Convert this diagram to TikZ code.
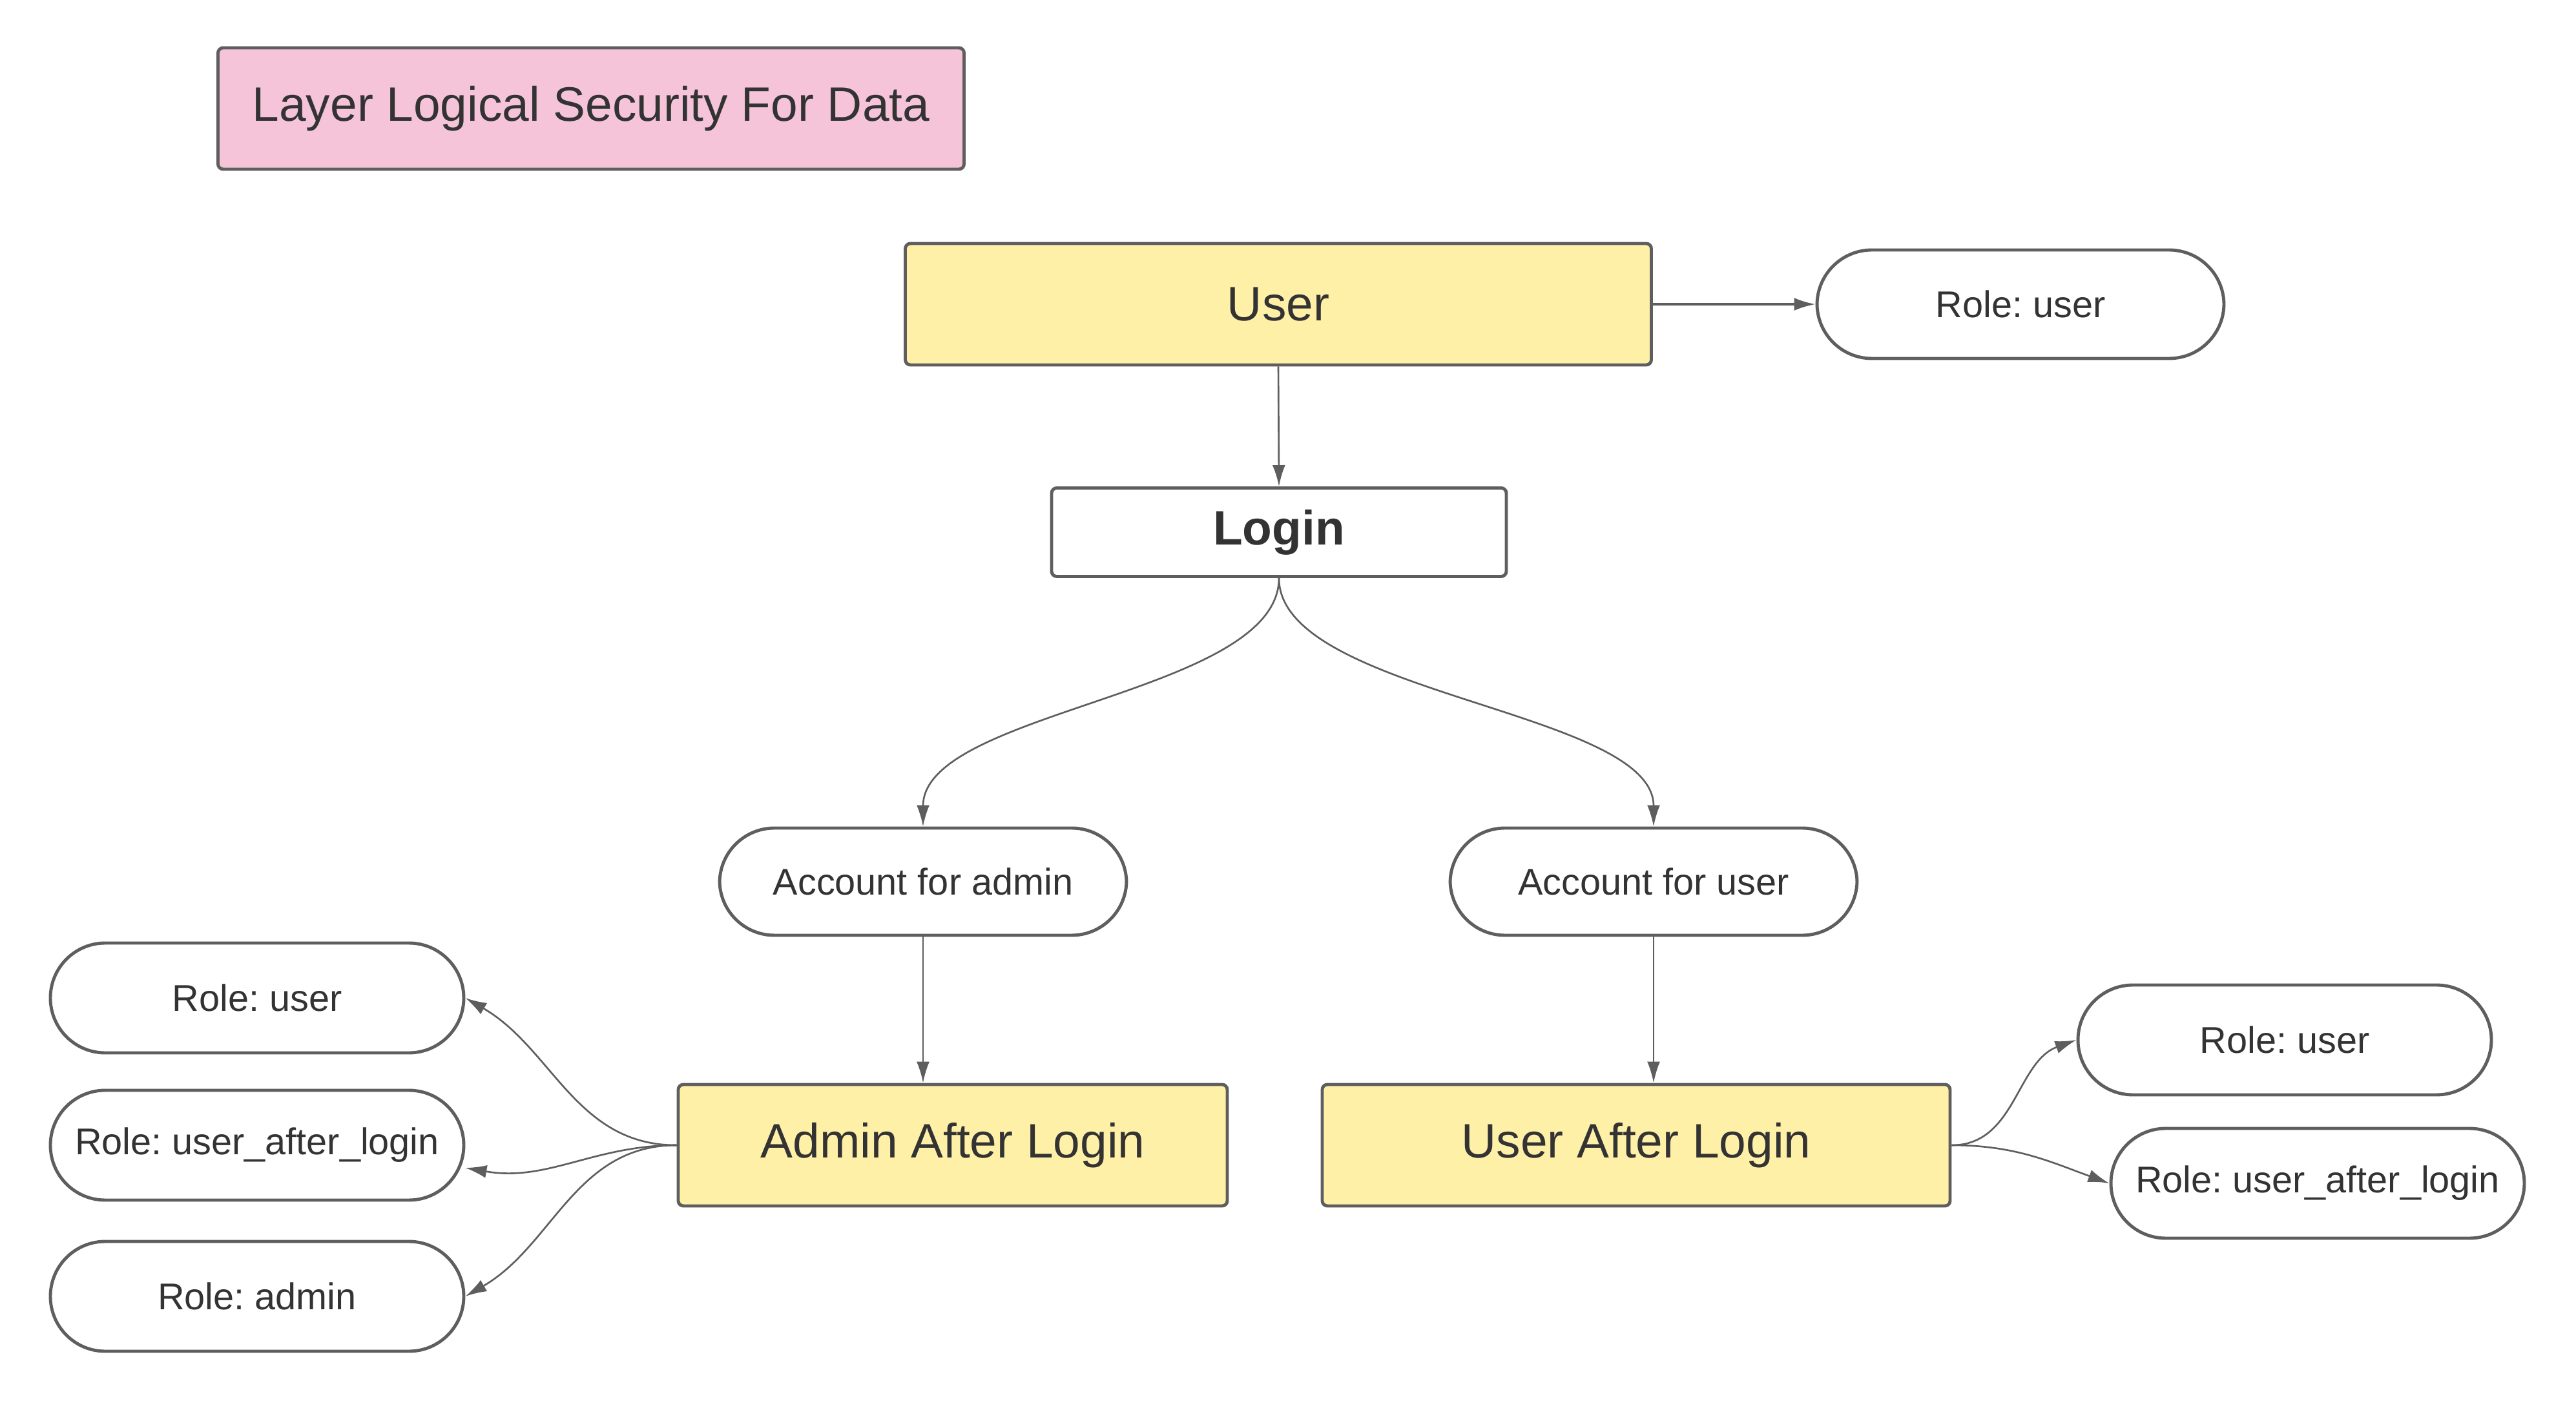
\documentclass[tikz,border=0pt]{standalone}
\usepackage{fontspec}
\setmainfont{Liberation Sans}
\usetikzlibrary{arrows.meta}
\definecolor{edgegray}{HTML}{5E5E5E}
\definecolor{textgray}{HTML}{333333}
\definecolor{boxyellow}{HTML}{FFF0A8}
\definecolor{boxpink}{HTML}{F5C4D9}
\frenchspacing
\begin{document}
\begin{tikzpicture}[
  box/.style={draw=edgegray, line width=1.4pt, rounded corners=0.08cm, inner sep=0pt,
    text=textgray, font=\fontsize{21.3}{26}\selectfont, minimum height=1.88cm},
  role/.style={draw=edgegray, line width=1.4pt, rounded corners=0.85cm, inner sep=0pt,
    text=textgray, font=\fontsize{16.4}{20}\selectfont, minimum width=6.4cm, minimum height=1.7cm},
  link/.style={draw=edgegray, line width=0.75pt, -{Latex[length=0.33cm,width=0.2cm]}}
]
\useasboundingbox (0,0) rectangle (39.88,-21.69);

\node[box, fill=boxpink, minimum width=11.55cm] (title) at (9.15,-1.68) {Layer Logical Security For Data};

\node[box, fill=boxyellow, minimum width=11.55cm] (user) at (19.79,-4.71) {User};
\node[role, minimum width=6.3cm, minimum height=1.68cm] (roleuser) at (31.28,-4.71) {Role: user};
\node[box, fill=white, minimum width=7.04cm, minimum height=1.37cm, font=\fontsize{21.3}{26}\selectfont\bfseries] (login) at (19.80,-8.24) {Login};

\node[role, minimum width=6.3cm, minimum height=1.66cm] (accadmin) at (14.29,-13.65) {Account for admin};
\node[role, minimum width=6.3cm, minimum height=1.66cm] (accuser) at (25.60,-13.65) {Account for user};

\node[box, fill=boxyellow, minimum width=8.5cm] (adminafter) at (14.75,-17.73) {Admin After Login};
\node[box, fill=boxyellow, minimum width=9.72cm] (userafter) at (25.33,-17.73) {User After Login};

\node[role] (aruser) at (3.98,-15.45) {Role: user};
\node[role] (arual) at (3.98,-17.73) {Role: user\_after\_login};
\node[role] (aradmin) at (3.98,-20.07) {Role: admin};

\node[role] (uruser) at (35.37,-16.10) {Role: user};
\node[role] (urual) at (35.88,-18.32) {Role: user\_after\_login};

\draw[link] (user.south) -- (login.north);
\draw[link, line width=1pt] (user.east) -- (roleuser.west);
\draw[link] (login.south) .. controls +(0,-1.8) and +(0,1.8) .. (accadmin.north);
\draw[link] (login.south) .. controls +(0,-1.8) and +(0,1.8) .. (accuser.north);
\draw[link] (accadmin.south) -- (accadmin.south |- adminafter.north);
\draw[link] (accuser.south) -- (accuser.south |- userafter.north);

\draw[link] (adminafter.west) to[out=180, in=-30] (aruser.east);
\draw[link] (adminafter.west) to[out=180, in=-10] ([yshift=-0.35cm]arual.east);
\draw[link] (adminafter.west) to[out=180, in=30] (aradmin.east);

\draw[link] (userafter.east) to[out=0, in=200] (uruser.west);
\draw[link] (userafter.east) to[out=0, in=160] (urual.west);
\end{tikzpicture}
\end{document}
